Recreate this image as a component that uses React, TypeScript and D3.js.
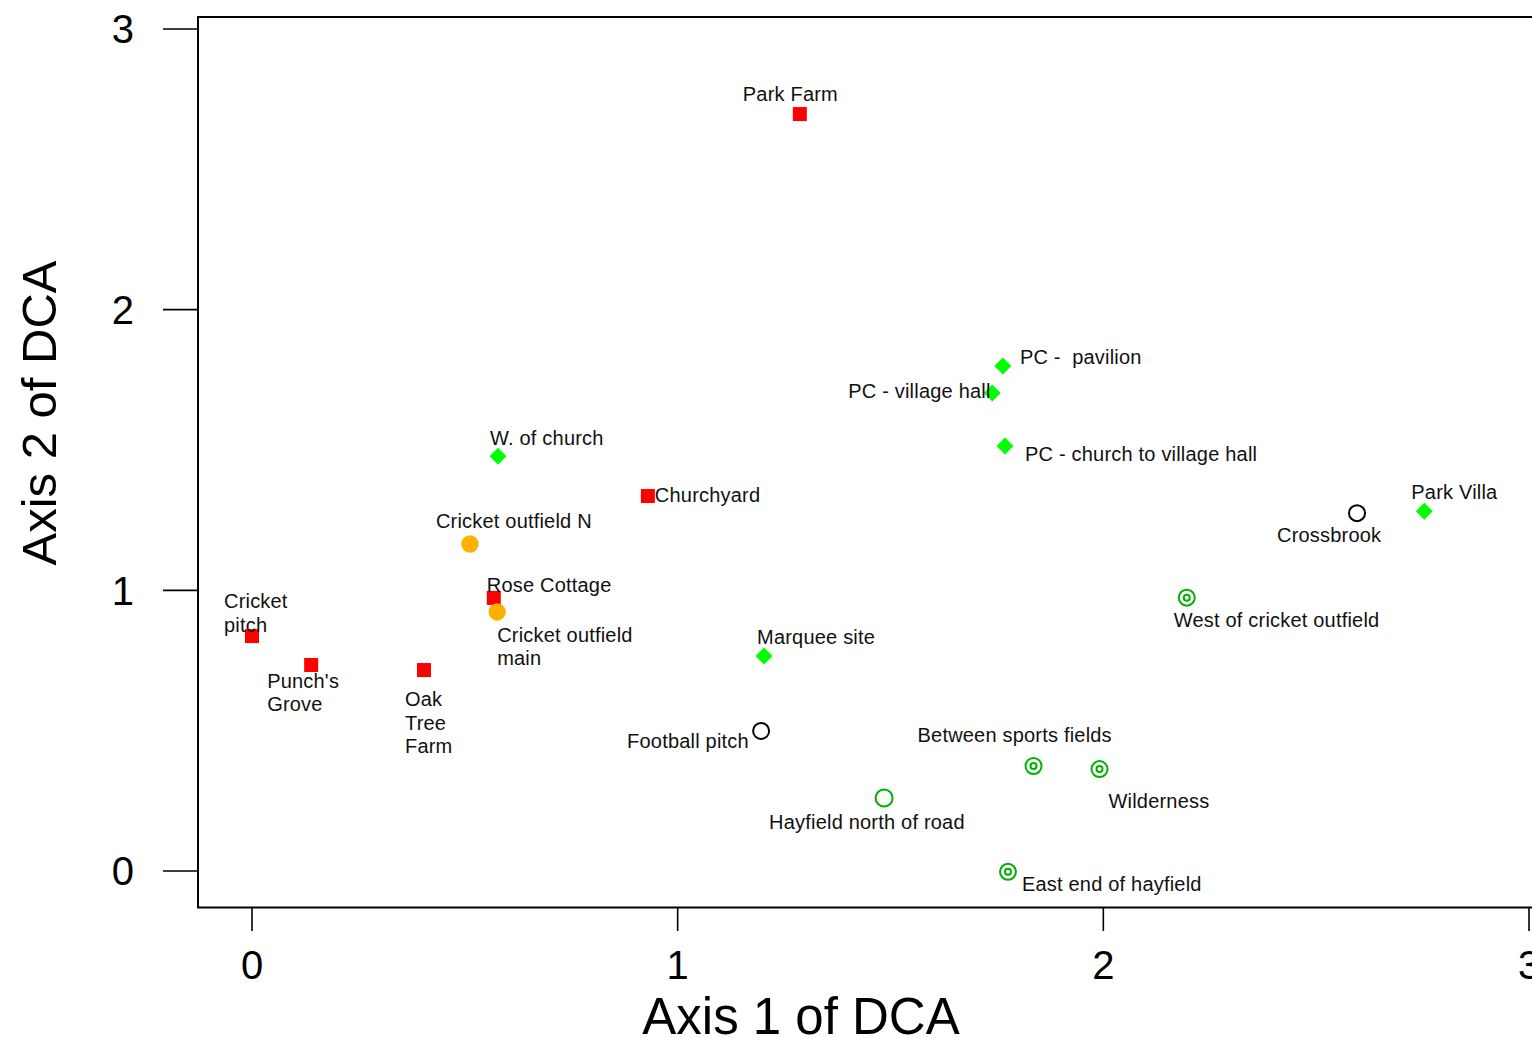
import React from "react";
import * as d3 from "d3";

const siteNames = [
  "Park Farm", "Churchyard", "Rose Cottage", "Cricket\npitch", "Punch's\nGrove", "Oak\nTree\nFarm",
  "Cricket outfield N", "Cricket outfield\nmain",
  "W. of church", "PC -  pavilion", "PC - village hall", "PC - church to village hall", "Park Villa", "Marquee site",
  "Crossbrook", "Football pitch",
  "Hayfield north of road",
  "West of cricket outfield", "Between sports fields", "Wilderness", "East end of hayfield",
];
const axis1 = [1.287, 0.93, 0.568, 0.0, 0.139, 0.404, 0.512, 0.576, 0.578, 1.764, 1.739, 1.769, 2.754, 1.203, 2.596, 1.196, 1.485, 2.196, 1.836, 1.991, 1.776];
const axis2 = [2.697, 1.336, 0.973, 0.837, 0.734, 0.716, 1.165, 0.923, 1.478, 1.799, 1.703, 1.514, 1.282, 0.766, 1.275, 0.499, 0.260, 0.974, 0.374, 0.363, -0.003];
const groups = ["sq", "sq", "sq", "sq", "sq", "sq", "oc", "oc", "di", "di", "di", "di", "di", "di", "bc", "bc", "gc", "gb", "gb", "gb", "gb"];
// label offsets (px) from the marker
const labelDx = [-57, 7, -7, -28, -44, -19, -34, 0, -8, 17, -144, 20, -13, -7, -80, -134, -115, -13, -116, 9, 14];
const labelDy = [-13, 6, -6, -28, 23, 36, -16, 30, -11, -2, 5, 15, -12, -12, 29, 17, 31, 29, -24, 39, 19];
const xTicks = [0, 1, 2, 3];
const yTicks = [0, 1, 2, 3];

const FONT = "'Liberation Sans', Arial, sans-serif";

export default function App() {
  const x = d3.scaleLinear().domain([0, 3]).range([252, 1529]);
  const y = d3.scaleLinear().domain([0, 3]).range([871, 29]);
  const sq = d3.symbol().type(d3.symbolSquare).size(196)() as string;
  const di = d3.symbol().type(d3.symbolSquare).size(144)() as string;

  const marker = (g: string, i: number) => {
    const cx = x(axis1[i]);
    const cy = y(axis2[i]);
    switch (g) {
      case "sq":
        return <path key={i} d={sq} transform={`translate(${cx},${cy})`} fill="#ff0000" />;
      case "oc":
        return <circle key={i} cx={cx} cy={cy} r={8.7} fill="#ffb000" />;
      case "di":
        return <path key={i} d={di} transform={`translate(${cx},${cy}) rotate(45)`} fill="#00ff00" />;
      case "bc":
        return <circle key={i} cx={cx} cy={cy} r={8} fill="none" stroke="#000" strokeWidth={2} />;
      case "gc":
        return <circle key={i} cx={cx} cy={cy} r={8.5} fill="none" stroke="#00b000" strokeWidth={2} />;
      default:
        return (
          <g key={i}>
            <circle cx={cx} cy={cy} r={8} fill="none" stroke="#00b000" strokeWidth={2} />
            <circle cx={cx} cy={cy} r={3} fill="none" stroke="#00b000" strokeWidth={2} />
          </g>
        );
    }
  };

  return (
    <svg width={1532} height={1038} style={{ position: "absolute", left: 0, top: 0, background: "#fff" }} fontFamily={FONT}>
      {/* frame */}
      <line x1={198} y1={17} x2={1532} y2={17} stroke="#000" strokeWidth={2} />
      <line x1={198} y1={16} x2={198} y2={908} stroke="#000" strokeWidth={2} />
      <line x1={197} y1={907.5} x2={1532} y2={907.5} stroke="#000" strokeWidth={2} />
      {/* y axis */}
      {yTicks.map((t) => (
        <g key={"y" + t}>
          <line x1={163} x2={198} y1={y(t)} y2={y(t)} stroke="#000" strokeWidth={1.6} />
          <text x={134} y={y(t)} dy="0.36em" textAnchor="end" fontSize={40} fill="#000">{t}</text>
        </g>
      ))}
      {/* x axis */}
      {xTicks.map((t) => (
        <g key={"x" + t}>
          <line x1={x(t)} x2={x(t)} y1={907} y2={931} stroke="#000" strokeWidth={1.6} />
          <text x={x(t)} y={979} textAnchor="middle" fontSize={40} fill="#000">{t}</text>
        </g>
      ))}
      <text x={801} y={1034} textAnchor="middle" fontSize={51} fill="#000">Axis 1 of DCA</text>
      <text transform="translate(56,413) rotate(-90)" textAnchor="middle" fontSize={49} fill="#000">Axis 2 of DCA</text>
      {/* markers */}
      {groups.map((g, i) => marker(g, i))}
      {/* labels */}
      {siteNames.map((n, i) => {
        const lines = n.split("\n");
        const lx = x(axis1[i]) + labelDx[i];
        const ly = y(axis2[i]) + labelDy[i];
        return (
          <text key={"l" + i} x={lx} y={ly} fontSize={20} letterSpacing={0.2} fill="#111" style={{ whiteSpace: "pre" }}>
            {lines.map((ln, k) => (
              <tspan key={k} x={lx} dy={k === 0 ? 0 : 23.5}>{ln}</tspan>
            ))}
          </text>
        );
      })}
    </svg>
  );
}
